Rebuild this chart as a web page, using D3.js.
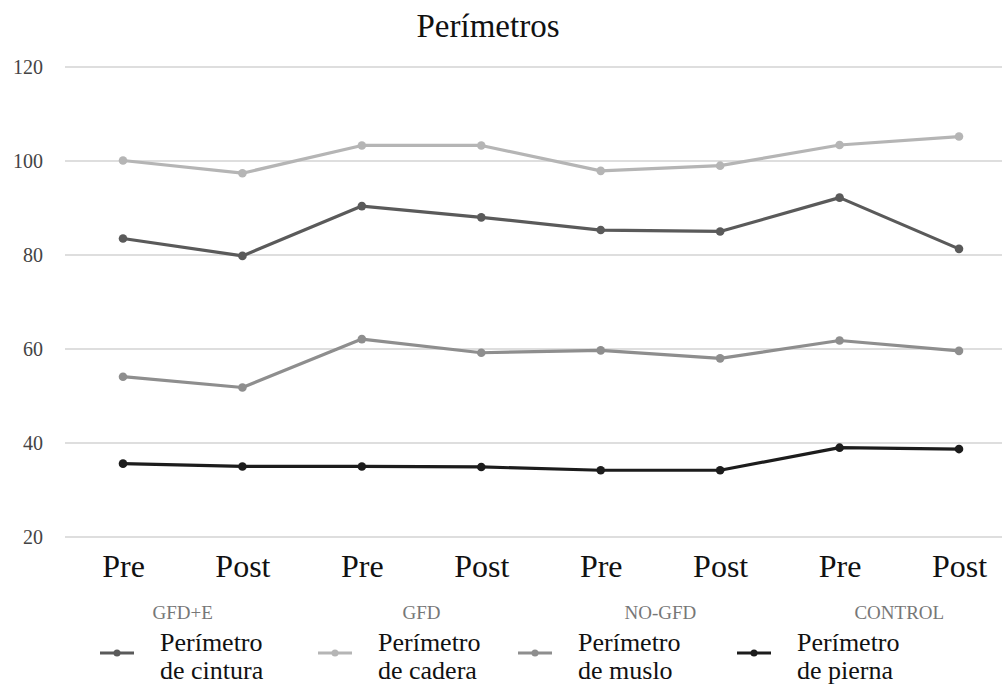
<!DOCTYPE html>
<html>
<head>
<meta charset="utf-8">
<script src="https://cdn.jsdelivr.net/npm/d3@7/dist/d3.min.js"></script>
<style>
  html, body { margin: 0; padding: 0; background: #fff; }
  svg { display: block; }
  .serif { font-family: "Liberation Serif", "Times New Roman", Tinos, "DejaVu Serif", serif; }
</style>
</head>
<body>
<svg id="chart" width="1002" height="686"></svg>
<script>
// Measurement moments (x axis) and study groups
const moments = ["Pre", "Post", "Pre", "Post", "Pre", "Post", "Pre", "Post"];
const groups = ["GFD+E", "GFD", "NO-GFD", "CONTROL"];
const yTicks = [20, 40, 60, 80, 100, 120];

// Mean perimeters (cm) per series
const cintura = [83.4, 79.7, 90.3, 87.9, 85.2, 84.9, 92.1, 81.2];
const cadera  = [100.0, 97.3, 103.2, 103.2, 97.8, 98.9, 103.3, 105.1];
const muslo   = [54.0, 51.7, 62.0, 59.1, 59.6, 57.9, 61.7, 59.5];
const pierna  = [35.5, 34.9, 34.9, 34.8, 34.1, 34.1, 38.9, 38.6];

const seriesNames = [["Perímetro", "de cintura"], ["Perímetro", "de cadera"], ["Perímetro", "de muslo"], ["Perímetro", "de pierna"]];
const seriesValues = [cintura, cadera, muslo, pierna];
const seriesColors = ["#5a5a5a", "#b5b5b5", "#8e8e8e", "#1c1c1c"];

const svg = d3.select("#chart");

const x = d3.scalePoint().domain(d3.range(moments.length)).range([123, 959]);
const y = d3.scaleLinear().domain([20, 120]).range([536.5, 66.5]);

// Title
svg.append("text")
  .attr("class", "serif")
  .attr("x", 488).attr("y", 37)
  .attr("text-anchor", "middle")
  .attr("font-size", 33)
  .attr("fill", "#111")
  .text("Perímetros");

// Horizontal gridlines
const yAxis = d3.axisLeft(y).tickValues(yTicks).tickSize(-(1002 - 65)).tickPadding(22);
const gy = svg.append("g").attr("transform", "translate(65,0)").call(yAxis);
gy.attr("font-family", null);
gy.select(".domain").remove();
gy.selectAll(".tick line").attr("stroke", "#dedede").attr("stroke-width", 2);
gy.selectAll(".tick text")
  .attr("class", "serif")
  .attr("font-size", 20)
  .attr("fill", "#444")
  .attr("dy", "0.34em");

// Lines and markers
const line = d3.line().x((d, i) => x(i)).y(d => y(d));
seriesValues.forEach((vals, s) => {
  svg.append("path")
    .datum(vals)
    .attr("d", line)
    .attr("fill", "none")
    .attr("stroke", seriesColors[s])
    .attr("stroke-width", 3.2)
    .attr("stroke-linejoin", "round");
  svg.append("g").selectAll("circle")
    .data(vals)
    .join("circle")
    .attr("cx", (d, i) => x(i))
    .attr("cy", d => y(d))
    .attr("r", 4.3)
    .attr("fill", seriesColors[s]);
});

// Category labels (Pre / Post)
const xAxis = d3.axisBottom(x).tickSize(0).tickPadding(0).tickFormat(i => moments[i]);
const gx = svg.append("g").attr("transform", "translate(0,555)").call(xAxis);
gx.attr("font-family", null);
gx.select(".domain").remove();
gx.selectAll(".tick text")
  .attr("class", "serif")
  .attr("font-size", 32)
  .attr("fill", "#111")
  .attr("dy", "0.69em");

// Group labels, centered under each Pre/Post pair
svg.append("g").selectAll("text")
  .data(groups)
  .join("text")
  .attr("class", "serif")
  .attr("x", (d, i) => (x(2 * i) + x(2 * i + 1)) / 2)
  .attr("y", 619)
  .attr("text-anchor", "middle")
  .attr("font-size", 19)
  .attr("fill", "#777")
  .text(d => d);

// Legend
const legendX = [100, 318, 518, 737];
const legend = svg.append("g").selectAll("g")
  .data(seriesNames)
  .join("g")
  .attr("transform", (d, i) => `translate(${legendX[i]},653)`);
legend.append("line")
  .attr("x1", 0).attr("x2", 34).attr("y1", 0).attr("y2", 0)
  .attr("stroke", (d, i) => seriesColors[i])
  .attr("stroke-width", 3);
legend.append("circle")
  .attr("cx", 17).attr("cy", 0).attr("r", 3.5)
  .attr("fill", (d, i) => seriesColors[i]);
legend.append("text")
  .attr("class", "serif")
  .attr("x", 60).attr("y", -2)
  .attr("font-size", 26)
  .attr("fill", "#111")
  .text(d => d[0]);
legend.append("text")
  .attr("class", "serif")
  .attr("x", 60).attr("y", 26)
  .attr("font-size", 26)
  .attr("fill", "#111")
  .text(d => d[1]);
</script>
</body>
</html>
